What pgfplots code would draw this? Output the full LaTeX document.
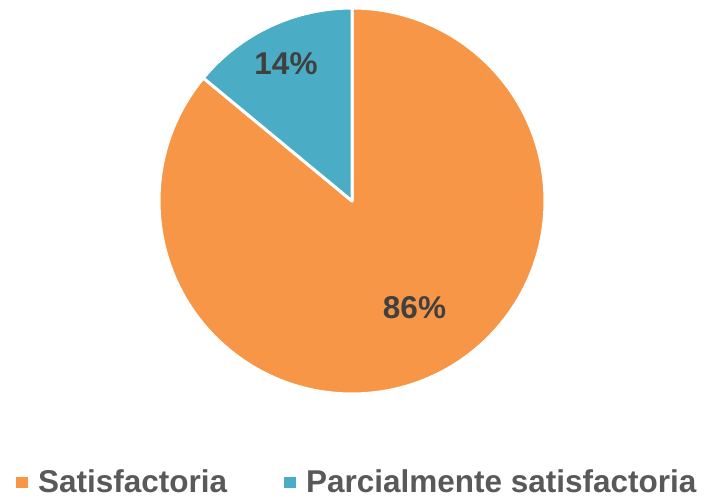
\documentclass[border=0pt]{standalone}
\usepackage{pgfplots}
\pgfplotsset{compat=1.18}
\usepackage{pgfplotstable}
\usepackage{fontspec}
\setmainfont{Liberation Sans}
\definecolor{orangeC}{HTML}{F79646}
\definecolor{tealC}{HTML}{4BACC6}
\definecolor{lblC}{HTML}{404040}
\definecolor{legC}{HTML}{595959}
\pgfplotstableread{
label value
Satisfactoria 86
Parcial 14
}\piedata
\begin{document}%
\begin{tikzpicture}
\pgfplotstablegetelem{0}{value}\of\piedata\let\vA\pgfplotsretval
\pgfplotstablegetelem{1}{value}\of\piedata\let\vB\pgfplotsretval
\pgfmathsetmacro{\aStart}{90}
\pgfmathsetmacro{\aMid}{90+\vB*3.6}
\pgfmathsetmacro{\aEnd}{\aMid+\vA*3.6}
\begin{axis}[
  x=1pt, y=1pt,
  xmin=0, xmax=706, ymin=0, ymax=495,
  hide axis, clip=false,
  legend columns=2,
  legend style={draw=none, fill=none, inner sep=0pt, outer sep=0pt,
    at={(axis cs:16,3)}, anchor=base west,
    font=\fontsize{31.5}{36}\selectfont\bfseries,
    text=legC,
    nodes={inner sep=0pt, anchor=base west},
    /tikz/every odd column/.append style={column sep=10pt},
    /tikz/every even column/.append style={column sep=57pt}},
  legend image code/.code={\fill[#1] (0pt,4pt) rectangle (12pt,15.5pt);},
]
\coordinate (BL) at (axis cs:0,0);
\coordinate (TR) at (axis cs:706,495);
\addlegendimage{fill=orangeC, draw=none}
\addlegendentry{Satisfactoria}
\addlegendimage{fill=tealC, draw=none}
\addlegendentry{Parcialmente satisfactoria}
\filldraw[fill=orangeC, draw=white, line width=3pt, line join=round]
  (axis cs:352,294) -- ++(\aMid:193pt) arc[start angle=\aMid, end angle=\aEnd, radius=193pt] -- cycle;
\filldraw[fill=tealC, draw=white, line width=3pt, line join=round]
  (axis cs:352,294) -- ++(\aStart:193pt) arc[start angle=\aStart, end angle=\aMid, radius=193pt] -- cycle;
\node[text=lblC, font=\fontsize{31.5}{36}\selectfont\bfseries] at (axis cs:286,431) {\vB\%};
\node[text=lblC, font=\fontsize{31.5}{36}\selectfont\bfseries] at (axis cs:414.5,187) {\vA\%};
\end{axis}
\pgfresetboundingbox
\useasboundingbox (BL) rectangle (TR);
\end{tikzpicture}%
\end{document}
